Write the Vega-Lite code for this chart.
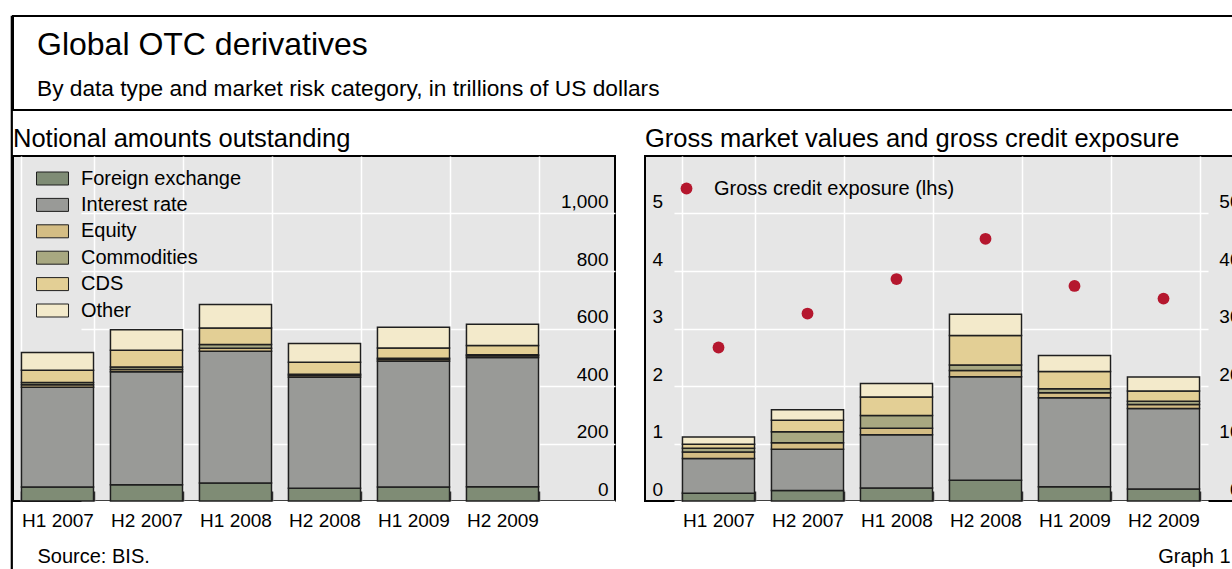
{
  "$schema": "https://vega.github.io/schema/vega-lite/v6.json",
  "background": "white",
  "padding": {"left": 10, "top": 15, "right": 0, "bottom": 0},
  "config": {
    "font": "Liberation Sans",
    "view": {"stroke": "black", "strokeWidth": 2},
    "title": {"color": "black", "fontWeight": "normal", "anchor": "start", "frame": "group"},
    "axis": {"labelColor": "black", "labelFontSize": 19, "titleColor": "black", "titleFontWeight": "normal", "titleFontSize": 20},
    "legend": {"labelColor": "black", "labelFontSize": 20, "labelLimit": 0}
  },
  "datasets": {
    "notional": [
      {"period": "H1 2007", "category": "Foreign exchange", "value": 48.6},
      {"period": "H1 2007", "category": "Interest rate", "value": 347.3},
      {"period": "H1 2007", "category": "Equity", "value": 8.6},
      {"period": "H1 2007", "category": "Commodities", "value": 7.6},
      {"period": "H1 2007", "category": "CDS", "value": 42.6},
      {"period": "H1 2007", "category": "Other", "value": 61.7},
      {"period": "H2 2007", "category": "Foreign exchange", "value": 56.2},
      {"period": "H2 2007", "category": "Interest rate", "value": 393.1},
      {"period": "H2 2007", "category": "Equity", "value": 8.5},
      {"period": "H2 2007", "category": "Commodities", "value": 8.5},
      {"period": "H2 2007", "category": "CDS", "value": 58.2},
      {"period": "H2 2007", "category": "Other", "value": 71.2},
      {"period": "H1 2008", "category": "Foreign exchange", "value": 63.0},
      {"period": "H1 2008", "category": "Interest rate", "value": 458.3},
      {"period": "H1 2008", "category": "Equity", "value": 10.2},
      {"period": "H1 2008", "category": "Commodities", "value": 13.2},
      {"period": "H1 2008", "category": "CDS", "value": 57.4},
      {"period": "H1 2008", "category": "Other", "value": 81.6},
      {"period": "H2 2008", "category": "Foreign exchange", "value": 44.2},
      {"period": "H2 2008", "category": "Interest rate", "value": 385.9},
      {"period": "H2 2008", "category": "Equity", "value": 6.5},
      {"period": "H2 2008", "category": "Commodities", "value": 4.4},
      {"period": "H2 2008", "category": "CDS", "value": 41.9},
      {"period": "H2 2008", "category": "Other", "value": 64.5},
      {"period": "H1 2009", "category": "Foreign exchange", "value": 48.8},
      {"period": "H1 2009", "category": "Interest rate", "value": 437.2},
      {"period": "H1 2009", "category": "Equity", "value": 6.6},
      {"period": "H1 2009", "category": "Commodities", "value": 3.6},
      {"period": "H1 2009", "category": "CDS", "value": 36.0},
      {"period": "H1 2009", "category": "Other", "value": 72.4},
      {"period": "H2 2009", "category": "Foreign exchange", "value": 49.2},
      {"period": "H2 2009", "category": "Interest rate", "value": 449.8},
      {"period": "H2 2009", "category": "Equity", "value": 6.6},
      {"period": "H2 2009", "category": "Commodities", "value": 2.9},
      {"period": "H2 2009", "category": "CDS", "value": 32.7},
      {"period": "H2 2009", "category": "Other", "value": 73.5}
    ],
    "gmv": [
      {"period": "H1 2007", "category": "Foreign exchange", "value": 1.35},
      {"period": "H1 2007", "category": "Interest rate", "value": 6.06},
      {"period": "H1 2007", "category": "Equity", "value": 1.12},
      {"period": "H1 2007", "category": "Commodities", "value": 0.64},
      {"period": "H1 2007", "category": "CDS", "value": 0.72},
      {"period": "H1 2007", "category": "Other", "value": 1.26},
      {"period": "H2 2007", "category": "Foreign exchange", "value": 1.81},
      {"period": "H2 2007", "category": "Interest rate", "value": 7.18},
      {"period": "H2 2007", "category": "Equity", "value": 1.14},
      {"period": "H2 2007", "category": "Commodities", "value": 1.9},
      {"period": "H2 2007", "category": "CDS", "value": 2.02},
      {"period": "H2 2007", "category": "Other", "value": 1.83},
      {"period": "H1 2008", "category": "Foreign exchange", "value": 2.26},
      {"period": "H1 2008", "category": "Interest rate", "value": 9.26},
      {"period": "H1 2008", "category": "Equity", "value": 1.15},
      {"period": "H1 2008", "category": "Commodities", "value": 2.21},
      {"period": "H1 2008", "category": "CDS", "value": 3.19},
      {"period": "H1 2008", "category": "Other", "value": 2.36},
      {"period": "H2 2008", "category": "Foreign exchange", "value": 3.59},
      {"period": "H2 2008", "category": "Interest rate", "value": 18.01},
      {"period": "H2 2008", "category": "Equity", "value": 1.11},
      {"period": "H2 2008", "category": "Commodities", "value": 0.95},
      {"period": "H2 2008", "category": "CDS", "value": 5.12},
      {"period": "H2 2008", "category": "Other", "value": 3.7},
      {"period": "H1 2009", "category": "Foreign exchange", "value": 2.47},
      {"period": "H1 2009", "category": "Interest rate", "value": 15.48},
      {"period": "H1 2009", "category": "Equity", "value": 0.88},
      {"period": "H1 2009", "category": "Commodities", "value": 0.69},
      {"period": "H1 2009", "category": "CDS", "value": 2.99},
      {"period": "H1 2009", "category": "Other", "value": 2.8},
      {"period": "H2 2009", "category": "Foreign exchange", "value": 2.07},
      {"period": "H2 2009", "category": "Interest rate", "value": 14.02},
      {"period": "H2 2009", "category": "Equity", "value": 0.71},
      {"period": "H2 2009", "category": "Commodities", "value": 0.55},
      {"period": "H2 2009", "category": "CDS", "value": 1.8},
      {"period": "H2 2009", "category": "Other", "value": 2.4}
    ],
    "gce": [
      {"period": "H1 2007", "series": "Gross credit exposure (lhs)", "value": 2.67},
      {"period": "H2 2007", "series": "Gross credit exposure (lhs)", "value": 3.26},
      {"period": "H1 2008", "series": "Gross credit exposure (lhs)", "value": 3.86},
      {"period": "H2 2008", "series": "Gross credit exposure (lhs)", "value": 4.56},
      {"period": "H1 2009", "series": "Gross credit exposure (lhs)", "value": 3.74},
      {"period": "H2 2009", "series": "Gross credit exposure (lhs)", "value": 3.52}
    ]
  },
  "spacing": -3,
  "hconcat": [
    {"width": 1, "height": 554, "data": {"values": [{"note": ""}]}, "mark": "text", "encoding": {"text": {"field": "note"}}, "view": {"fill": "white", "stroke": "black", "strokeWidth": 1.2}},
    {
      "spacing": 14,
      "vconcat": [
        {
          "width": 1232, "height": 94,
          "data": {"values": [{"note": ""}]}, "mark": "text", "encoding": {"text": {"field": "note"}}, "view": {"fill": "white", "stroke": "black", "strokeWidth": 2},
          "title": {
            "text": "Global OTC derivatives",
            "subtitle": "By data type and market risk category, in trillions of US dollars",
            "fontSize": 32, "subtitleFontSize": 22.7, "subtitleColor": "black",
            "subtitlePadding": 16, "offset": -86, "dx": 24
          }
        },
        {
          "spacing": 28,
          "resolve": {"scale": {"fill": "independent", "color": "independent"}, "legend": {"fill": "independent", "color": "independent"}},
          "hconcat": [
            {
              "width": 602, "height": 345,
              "view": {"fill": "#e6e6e6"},
              "title": {"text": "Notional amounts outstanding", "fontSize": 25.5, "offset": 4},
              "data": {"name": "notional"},
              "transform": [{"calculate": "indexof(['Foreign exchange','Interest rate','Equity','Commodities','CDS','Other'], datum.category)", "as": "k"}],
              "mark": {"type": "bar", "stroke": "#1f1f1f", "strokeWidth": 1.5},
              "encoding": {
                "x": {
                  "field": "period", "type": "nominal",
                  "scale": {"domain": ["H1 2007","H2 2007","H1 2008","H2 2008","H1 2009","H2 2009"], "range": [0, 534], "paddingInner": 0.19, "paddingOuter": 0.095},
                  "axis": {
                    "title": "Source: BIS.", "titleX": 24, "titleY": 71, "titleAlign": "left", "titleBaseline": "alphabetic",
                    "labelAngle": 0, "labelPadding": 10, "domain": false, "offset": -10,
                    "tickBand": "extent", "tickSize": 10, "tickColor": "#333333", "tickWidth": 1.5,
                    "grid": true, "gridColor": "white", "gridWidth": 1.5
                  }
                },
                "y": {
                  "field": "value", "type": "quantitative", "stack": "zero",
                  "scale": {"domain": [0, 1200], "nice": false},
                  "axis": {
                    "orient": "right", "title": null, "values": [0, 200, 400, 600, 800, 1000], "format": ",.0f",
                    "domain": false, "ticks": false, "labelAlign": "right", "labelPadding": -7,
                    "labelBaseline": "alphabetic", "labelOffset": -6, "labelOverlap": false, "labelFlush": false,
                    "grid": true, "gridColor": "white", "gridWidth": 1.5
                  }
                },
                "fill": {
                  "field": "category", "type": "nominal",
                  "scale": {"domain": ["Foreign exchange","Interest rate","Equity","Commodities","CDS","Other"], "range": ["#7f8c75","#999a97","#d4bd84","#a8a881","#e3cf95","#f3eacb"]},
                  "legend": {
                    "orient": "none", "legendX": 29.5, "legendY": 12.5, "title": null, "padding": 0,
                    "symbolType": "M-2.46,-1H2.46V1H-2.46Z", "symbolSize": 169,
                    "symbolStrokeColor": "#1f1f1f", "symbolStrokeWidth": 1,
                    "labelOffset": 18.5, "rowPadding": 6.4
                  }
                },
                "order": {"field": "k", "type": "quantitative"}
              }
            },
            {
              "width": 602, "height": 345,
              "view": {"fill": "#e6e6e6"},
              "title": {"text": "Gross market values and gross credit exposure", "fontSize": 25.5, "offset": 4},
              "layer": [
                {
                  "data": {"name": "gmv"},
                  "transform": [{"calculate": "indexof(['Foreign exchange','Interest rate','Equity','Commodities','CDS','Other'], datum.category)", "as": "k"}],
                  "mark": {"type": "bar", "stroke": "#1f1f1f", "strokeWidth": 1.5},
                  "encoding": {
                    "x": {
                      "field": "period", "type": "nominal",
                      "scale": {"domain": ["H1 2007","H2 2007","H1 2008","H2 2008","H1 2009","H2 2009"], "range": [29, 563], "paddingInner": 0.19, "paddingOuter": 0.095},
                      "axis": {
                        "title": "Graph 1", "titleX": 585, "titleY": 71, "titleAlign": "right", "titleBaseline": "alphabetic",
                        "labelAngle": 0, "labelPadding": 10, "domain": false, "offset": -10,
                        "tickBand": "extent", "tickSize": 10, "tickColor": "#333333", "tickWidth": 1.5,
                        "grid": true, "gridColor": "white", "gridWidth": 1.5
                      }
                    },
                    "y": {
                      "field": "value", "type": "quantitative", "stack": "zero",
                      "scale": {"domain": [0, 60], "nice": false},
                      "axis": {
                        "orient": "right", "title": null, "values": [0, 10, 20, 30, 40, 50],
                        "domain": false, "ticks": false, "labelAlign": "right", "labelPadding": -7,
                        "labelBaseline": "alphabetic", "labelOffset": -6, "labelOverlap": false, "labelFlush": false,
                        "grid": false
                      }
                    },
                    "fill": {
                      "field": "category", "type": "nominal",
                      "scale": {"domain": ["Foreign exchange","Interest rate","Equity","Commodities","CDS","Other"], "range": ["#7f8c75","#999a97","#d4bd84","#a8a881","#e3cf95","#f3eacb"]},
                      "legend": null
                    },
                    "order": {"field": "k", "type": "quantitative"}
                  }
                },
                {
                  "data": {"name": "gce"},
                  "mark": {"type": "point", "filled": true, "size": 140, "opacity": 1},
                  "encoding": {
                    "x": {
                      "field": "period", "type": "nominal",
                      "scale": {"domain": ["H1 2007","H2 2007","H1 2008","H2 2008","H1 2009","H2 2009"], "range": [29, 563], "paddingInner": 0.19, "paddingOuter": 0.095}
                    },
                    "y": {
                      "field": "value", "type": "quantitative",
                      "scale": {"domain": [0, 6], "nice": false},
                      "axis": {
                        "orient": "left", "title": null, "values": [0, 1, 2, 3, 4, 5],
                        "domain": false, "ticks": false, "labelAlign": "left", "labelPadding": -7,
                        "labelBaseline": "alphabetic", "labelOffset": -6, "labelOverlap": false, "labelFlush": false,
                        "grid": true, "gridColor": "white", "gridWidth": 1.5
                      }
                    },
                    "color": {
                      "field": "series", "type": "nominal",
                      "scale": {"range": ["#b5172e"]},
                      "legend": {
                        "orient": "none", "legendX": 31.5, "legendY": 22.5, "title": null, "padding": 0,
                        "symbolType": "circle", "symbolSize": 140, "symbolStrokeWidth": 0,
                        "labelOffset": 17.5
                      }
                    }
                  }
                }
              ],
              "resolve": {"scale": {"y": "independent"}}
            }
          ]
        }
      ]
    }
  ]
}
